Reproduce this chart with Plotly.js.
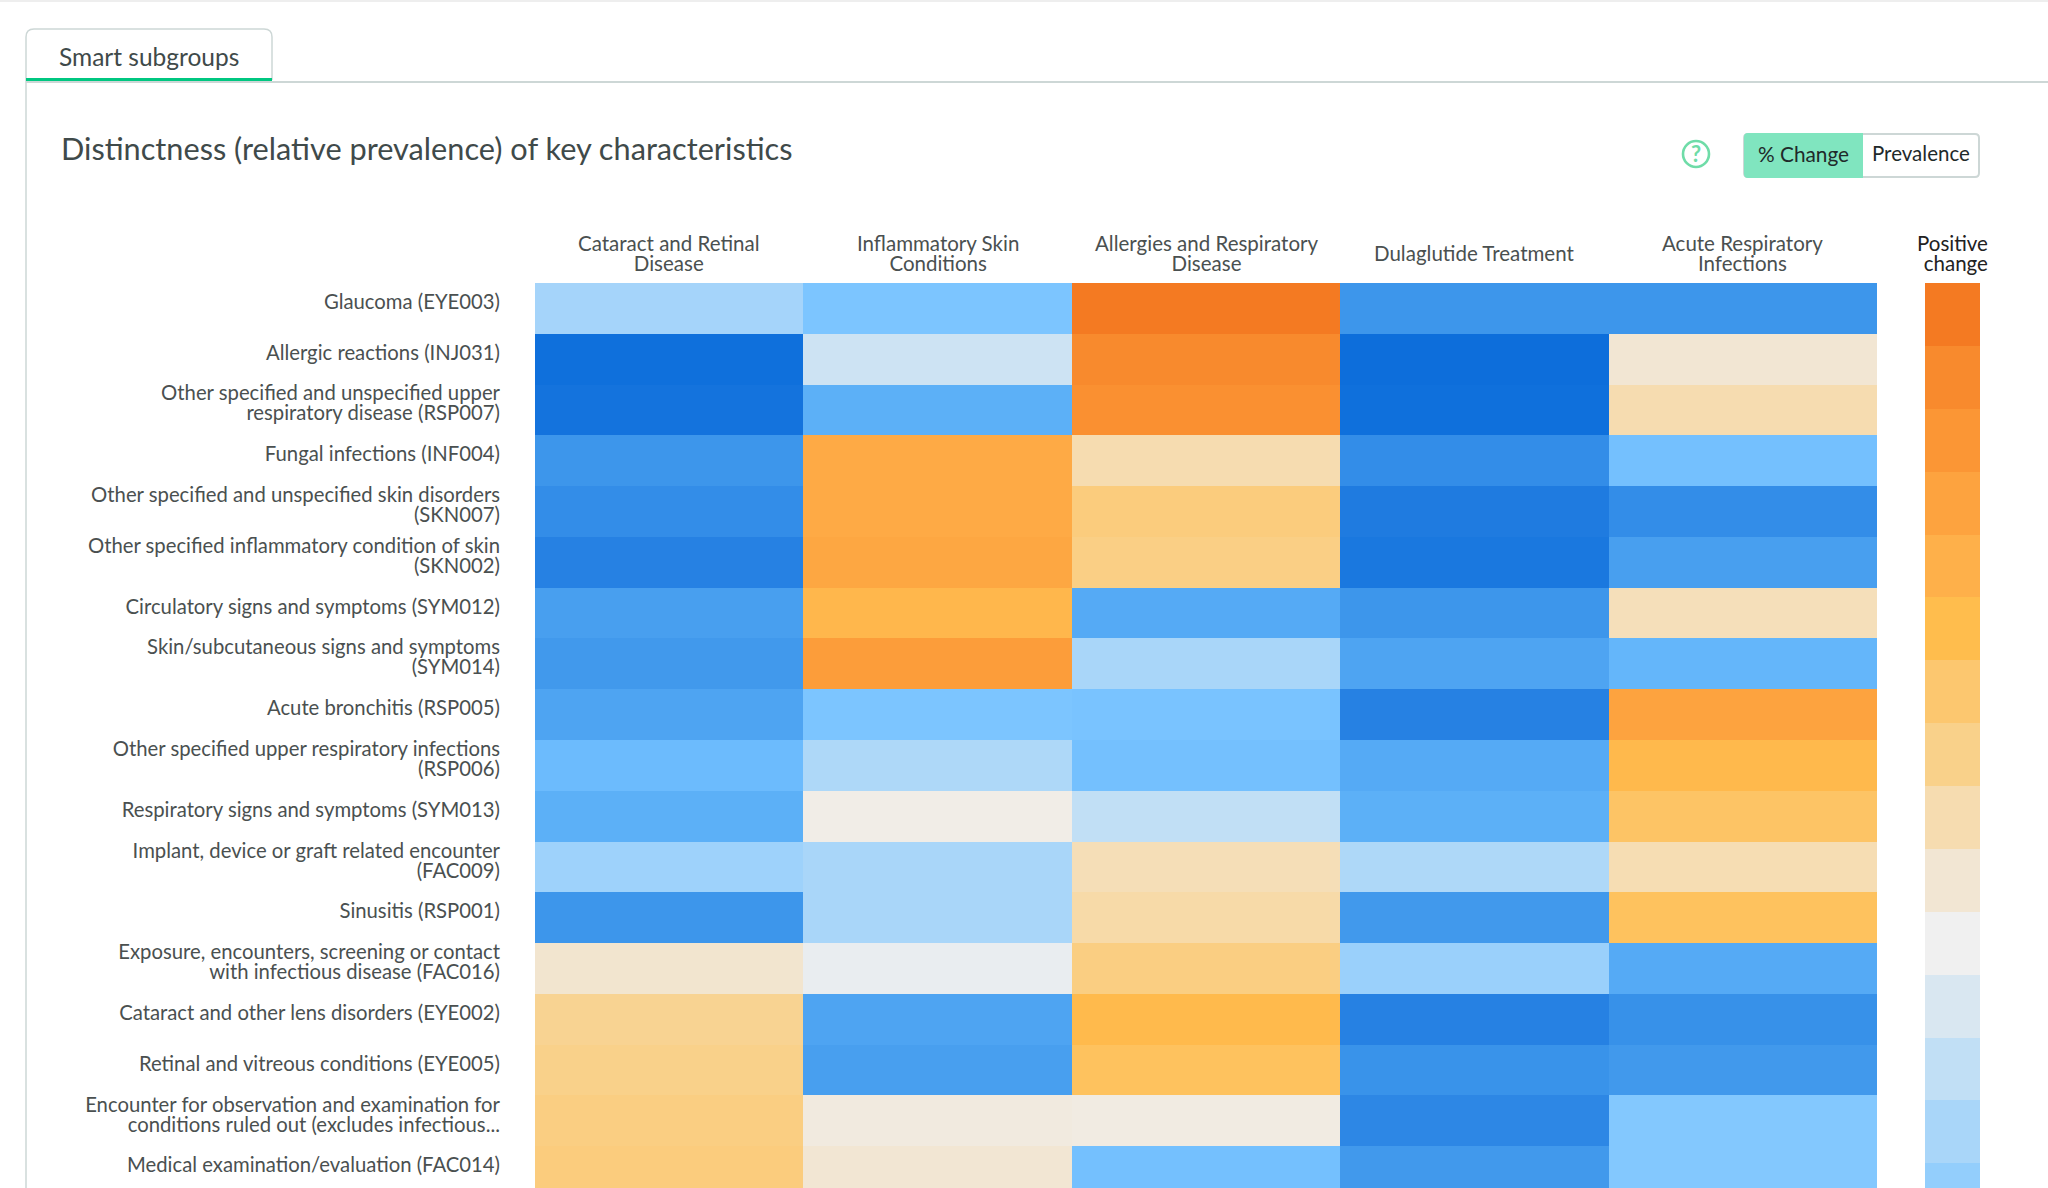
<!DOCTYPE html>
<html><head><meta charset="utf-8">
<script src="https://cdn.plot.ly/plotly-3.0.1.min.js"></script>
<style>html,body{margin:0;padding:0;background:#fff}#c{width:2048px;height:1188px}</style></head>
<body><div id="c"></div>
<script>
const FONT = 'Lato, "Open Sans", sans-serif';
const columns = ["Cataract and Retinal<br>Disease","Inflammatory Skin<br>Conditions","Allergies and Respiratory<br>Disease","Dulaglutide Treatment","Acute Respiratory<br>Infections"];
const rows = [
 "Glaucoma (EYE003)","Allergic reactions (INJ031)","Other specified and unspecified upper<br>respiratory disease (RSP007)",
 "Fungal infections (INF004)","Other specified and unspecified skin disorders<br>(SKN007)","Other specified inflammatory condition of skin<br>(SKN002)",
 "Circulatory signs and symptoms (SYM012)","Skin/subcutaneous signs and symptoms<br>(SYM014)","Acute bronchitis (RSP005)",
 "Other specified upper respiratory infections<br>(RSP006)","Respiratory signs and symptoms (SYM013)","Implant, device or graft related encounter<br>(FAC009)",
 "Sinusitis (RSP001)","Exposure, encounters, screening or contact<br>with infectious disease (FAC016)","Cataract and other lens disorders (EYE002)",
 "Retinal and vitreous conditions (EYE005)","Encounter for observation and examination for<br>conditions ruled out (excludes infectious...","Medical examination/evaluation (FAC014)"];
const changeCataract = [-3.2,-13,-12.7,-9.5,-10.5,-11.5,-8.5,-9,-8,-6,-7,-3.5,-9.5,1.1,2.8,3,3.3,3.5];
const changeSkin = [-5,-1.5,-7,6.5,6.5,6.7,5.5,7.5,-5,-2.8,0.3,-3,-3,-0.3,-8,-8.5,0.6,1];
const changeAllergy = [10,9,8.5,2,3.5,3.2,-7.5,-3,-5.2,-5.5,-2,1.8,2.2,3.3,5.2,4.5,0.5,-5.5];
const changeDula = [-9.5,-13.3,-13,-10.5,-12,-12.3,-9.5,-8,-11.5,-7.5,-7,-2.8,-9,-3.7,-11.5,-10,-11,-9];
const changeAcute = [-9.5,1,2,-5.5,-10.5,-8.5,1.7,-6.5,7,5.3,4.3,1.9,4.5,-7.5,-10.2,-9,-4.7,-4.7];
const legendLevels = [10,9,8,7,6,5,4,3,2,1,0,-1,-2,-3,-4,-5];
const scaleLevels = [-13.5,-13,-12,-11,-10,-9,-8,-7,-6,-5,-4,-3,-2,-1,0,1,2,3,4,5,6,7,8,9,10];
const scaleColors = ["#0b6ddb","#0f70dc","#1f7be0","#2d87e5","#3993ea","#4199ec","#4ea4f2","#5cb0f7","#6cbbfd","#7cc5ff","#93cefc","#a9d6f9","#c1dff5","#d9e7f1","#f0f0f0","#f2e6d3","#f6dcb0","#f9d18a","#fcc76f","#ffbd4d","#feb04a","#fda33f","#fb9635","#f88a2d","#f47a22"];

const W=2048,H=1188,TOP=283;
const fx=p=>p/W, fy=p=>1-p/H;
const zMin=scaleLevels[0], zMax=scaleLevels[scaleLevels.length-1];
const colorscale=scaleLevels.map((v,i)=>[(v-zMin)/(zMax-zMin),scaleColors[i]]);
const z=rows.map((_,i)=>[changeCataract[i],changeSkin[i],changeAllergy[i],changeDula[i],changeAcute[i]]);
const big=(s,size)=>s.split('<br>').map(t=>`<span style="font-size:${size}px">${t}</span>`).join('<br>');

const rr=(x0,y0,x1,y1,r)=>`M${fx(x0+r)},${fy(y0)} L${fx(x1-r)},${fy(y0)} Q${fx(x1)},${fy(y0)} ${fx(x1)},${fy(y0+r)} L${fx(x1)},${fy(y1-r)} Q${fx(x1)},${fy(y1)} ${fx(x1-r)},${fy(y1)} L${fx(x0+r)},${fy(y1)} Q${fx(x0)},${fy(y1)} ${fx(x0)},${fy(y1-r)} L${fx(x0)},${fy(y0+r)} Q${fx(x0)},${fy(y0)} ${fx(x0+r)},${fy(y0)} Z`;
const pp=d=>({type:'path',xref:'paper',yref:'paper',path:d});
const LINE='#cdd7d6';
const shapes=[
 {type:'rect',xref:'paper',yref:'paper',x0:0,x1:1,y0:fy(0),y1:fy(2),fillcolor:'#eeeeee',line:{width:0}},
 {...pp(`M${fx(26)},${fy(80)} L${fx(26)},${fy(37)} Q${fx(26)},${fy(29)} ${fx(34)},${fy(29)} L${fx(264)},${fy(29)} Q${fx(272)},${fy(29)} ${fx(272)},${fy(37)} L${fx(272)},${fy(80)}`),line:{color:LINE,width:1.5}},
 {type:'line',xref:'paper',yref:'paper',x0:fx(26),x1:1,y0:fy(82),y1:fy(82),line:{color:LINE,width:2}},
 {type:'line',xref:'paper',yref:'paper',x0:fx(26),x1:fx(26),y0:fy(80),y1:0,line:{color:LINE,width:1.5}},
 {type:'rect',xref:'paper',yref:'paper',x0:fx(26),x1:fx(272),y0:fy(78),y1:fy(81),fillcolor:'#00c781',line:{width:0}},
 {...pp(rr(1744,134,1979,177,4)),fillcolor:'#ffffff',line:{color:LINE,width:2}},
 {...pp(`M${fx(1748)},${fy(133)} L${fx(1863)},${fy(133)} L${fx(1863)},${fy(178)} L${fx(1748)},${fy(178)} Q${fx(1744)},${fy(178)} ${fx(1744)},${fy(174)} L${fx(1744)},${fy(137)} Q${fx(1744)},${fy(133)} ${fx(1748)},${fy(133)} Z`),fillcolor:'#80e5bf',line:{width:0}},
 {type:'circle',xref:'paper',yref:'paper',x0:fx(1683),x1:fx(1709),y0:fy(141),y1:fy(167),line:{color:'#6fdca8',width:2.6}}
];
const ann=(text,px,py,size,color,anchor,extra)=>Object.assign({xref:'paper',yref:'paper',x:fx(px),y:fy(py),text,showarrow:false,xanchor:anchor||'left',yanchor:'middle',font:{family:FONT,size,color}},extra||{});
const annotations=[
 ann('Smart subgroups',57,56,24.5,'#3f4a4a'),
 ann('Distinctness (relative prevalence) of key characteristics',59,148,30.7,'#3f4a4a'),
 ann('?',1696,153,22,'#6fdca8','center',{font:{family:FONT,size:22,color:'#6fdca8',weight:700}}),
 ann('% Change',1803,153,20.8,'#1f2a2a','center'),
 ann('Prevalence',1921,153,20.5,'#1f2a2a','center'),
 ann(big('Positive<br>change',20.5),1990,253,15.4,'#222222','right',{align:'right'})
];
columns.forEach(c=>annotations.push({xref:'x',yref:'paper',x:c,y:fy(253),text:big(c,20.5),showarrow:false,xanchor:'center',yanchor:'middle',align:'center',font:{family:FONT,size:15.4,color:'#4a5050'}}));

const data=[
 {type:'heatmap',x:columns,y:rows,z,colorscale,zmin:zMin,zmax:zMax,showscale:false,xaxis:'x',yaxis:'y',hoverinfo:'skip'},
 {type:'heatmap',x:['Positive change'],y:legendLevels.map(String),z:legendLevels.map(v=>[v]),colorscale,zmin:zMin,zmax:zMax,showscale:false,xaxis:'x2',yaxis:'y2',hoverinfo:'skip'}
];
const layout={
 width:W,height:H,margin:{l:0,r:0,t:0,b:0},paper_bgcolor:'#fff',plot_bgcolor:'#fff',showlegend:false,
 xaxis:{domain:[fx(535),fx(1877)],type:'category',showticklabels:false,ticks:'',showgrid:false,zeroline:false,anchor:'y',fixedrange:true},
 yaxis:{domain:[0,fy(TOP)],type:'category',range:[(H-TOP)/50.8-0.5,-0.5],tickmode:'array',tickvals:rows,ticktext:rows.map(r=>big(r,20.3)),
   tickfont:{family:FONT,size:15.4,color:'#4a5050'},ticks:'',ticklabelstandoff:34,ticklabelshift:5,showgrid:false,zeroline:false,anchor:'x',fixedrange:true},
 xaxis2:{domain:[fx(1925),fx(1980)],type:'category',showticklabels:false,ticks:'',showgrid:false,zeroline:false,anchor:'y2'},
 yaxis2:{domain:[0,fy(TOP)],type:'category',range:[(H-TOP)/62.9-0.5,-0.5],showticklabels:false,ticks:'',showgrid:false,zeroline:false,anchor:'x2'},
 shapes,annotations
};
Plotly.newPlot('c',data,layout,{displayModeBar:false,responsive:false});
</script></body></html>
